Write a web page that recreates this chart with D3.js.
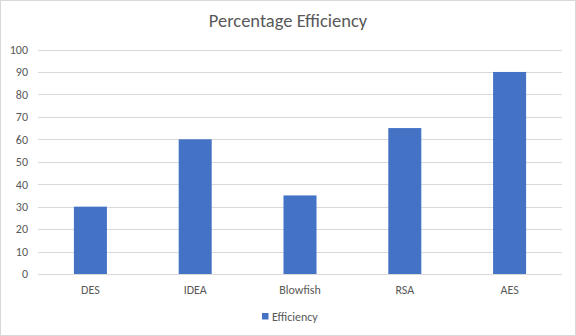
<!DOCTYPE html>
<html><head><meta charset="utf-8">
<script src="https://cdn.jsdelivr.net/npm/d3@7"></script>
<style>html,body{margin:0;padding:0;background:#fff;}svg{display:block;}</style>
</head><body>
<svg id="c" width="576" height="336"></svg>
<script>
const categories = ["DES", "IDEA", "Blowfish", "RSA", "AES"];
const efficiency = [30, 60, 35, 65, 90];
const yTicks = [0, 10, 20, 30, 40, 50, 60, 70, 80, 90, 100];
const seriesName = "Efficiency";
const title = "Percentage Efficiency";

const svg = d3.select("#c");
const W = 576, H = 336;
const m = {left: 38, right: 14, top: 49.5, bottom: 62};
const font = "Calibri, Carlito, 'Liberation Sans', Arial, sans-serif";

svg.append("rect").attr("x", 0.5).attr("y", 0.5).attr("width", W - 1).attr("height", H - 1)
  .attr("fill", "#fff").attr("stroke", "#d9d9d9");

const x = d3.scaleBand().domain(categories).range([m.left, W - m.right]).paddingInner(0.685).paddingOuter(0.3425);
const y = d3.scaleLinear().domain([0, 100]).range([H - m.bottom, m.top]);

const grid = svg.append("g");
grid.selectAll("line").data(yTicks).join("line")
  .attr("x1", m.left).attr("x2", W - m.right)
  .attr("y1", d => Math.round(y(d)) + 0.5).attr("y2", d => Math.round(y(d)) + 0.5)
  .attr("stroke", "#d9d9d9").attr("stroke-width", 1);

const yAxis = d3.axisLeft(y).tickValues(yTicks).tickSize(0).tickPadding(10);
const ya = svg.append("g").attr("transform", `translate(${m.left},0)`).call(yAxis);
ya.select(".domain").remove();
ya.selectAll("text").attr("fill", "#595959").style("font-family", font).style("font-size", "12px");

svg.append("g").selectAll("rect").data(efficiency).join("rect")
  .attr("x", (d, i) => x(categories[i]))
  .attr("width", x.bandwidth())
  .attr("y", d => y(d))
  .attr("height", d => y(0) - y(d))
  .attr("fill", "#4472C4");

const xAxis = d3.axisBottom(x).tickSize(0).tickPadding(11);
const xa = svg.append("g").attr("transform", `translate(0,${y(0)})`).call(xAxis);
xa.select(".domain").remove();
xa.selectAll("text").attr("fill", "#595959").style("font-family", font).style("font-size", "12px");

svg.append("text").attr("x", W / 2).attr("y", 27).attr("text-anchor", "middle")
  .attr("fill", "#595959").style("font-family", font).style("font-size", "18.5px").text(title);

const lg = svg.append("g").attr("transform", "translate(262,313)");
lg.append("rect").attr("width", 6.5).attr("height", 6.5).attr("fill", "#4472C4");
lg.append("text").attr("x", 10).attr("y", 7.5).attr("fill", "#595959")
  .style("font-family", font).style("font-size", "12px").text(seriesName);
</script>
</body></html>
